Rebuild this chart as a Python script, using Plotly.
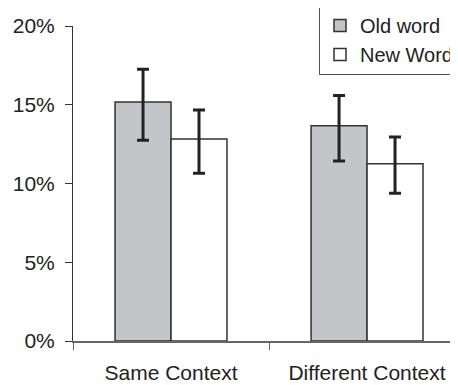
import plotly.graph_objects as go

categories = ["Same Context", "Different Context"]
old_word = [15.17, 13.67]
old_err_plus = [2.08, 1.91]
old_err_minus = [2.43, 2.24]
new_word = [12.83, 11.26]
new_err_plus = [1.84, 1.69]
new_err_minus = [2.18, 1.88]
y_ticks = [0, 5, 10, 15, 20]
y_tick_labels = ["0%", "5%", "10%", "15%", "20%"]

font = dict(family="Liberation Sans, Arial, sans-serif", size=21, color="#222222")
legend_font = dict(family="Liberation Sans, Arial, sans-serif", size=20, color="#222222")

# The page body has an 8px margin, so the figure is drawn 8px smaller and offset.
W, H = 450, 377
ML, MT, MB = 65, 18, 44
PW = W - ML
PH = H - MT - MB

fig = go.Figure()
fig.add_trace(go.Bar(
    name="Old word", x=categories, y=old_word,
    marker=dict(color="#c4c5c9", line=dict(color="#333333", width=1.5)),
    error_y=dict(type="data", symmetric=False, array=old_err_plus, arrayminus=old_err_minus,
                 color="#222222", thickness=3, width=6),
))
fig.add_trace(go.Bar(
    name="New Word", x=categories, y=new_word,
    marker=dict(color="#ffffff", line=dict(color="#333333", width=1.5)),
    error_y=dict(type="data", symmetric=False, array=new_err_plus, arrayminus=new_err_minus,
                 color="#222222", thickness=3, width=6),
))

fig.update_layout(
    width=W, height=H,
    margin=dict(l=ML, r=0, t=MT, b=MB, pad=0, autoexpand=False),
    paper_bgcolor="white", plot_bgcolor="white",
    font=font,
    barmode="group", bargap=0.429, bargroupgap=0,
    showlegend=True,
    legend=dict(x=(319 - 8 - ML) / PW, xanchor="left", y=1 + 21 / PH, yanchor="top",
                bordercolor="#555555", borderwidth=1, bgcolor="white",
                font=legend_font, itemwidth=30, tracegroupgap=0),
    xaxis=dict(range=[-0.5, 1.464], showline=True, linecolor="#666666", linewidth=1.5,
               ticks="outside", tickson="boundaries", ticklen=7, tickcolor="#666666",
               showgrid=False, zeroline=False, ticklabelstandoff=12),
    yaxis=dict(range=[0, 20], tickmode="array", tickvals=y_ticks, ticktext=y_tick_labels,
               showline=True, linecolor="#333333", linewidth=1, ticks="outside", ticklen=7,
               tickcolor="#333333", showgrid=False, zeroline=False, ticklabelstandoff=6),
)

fig.write_html("out.html")
